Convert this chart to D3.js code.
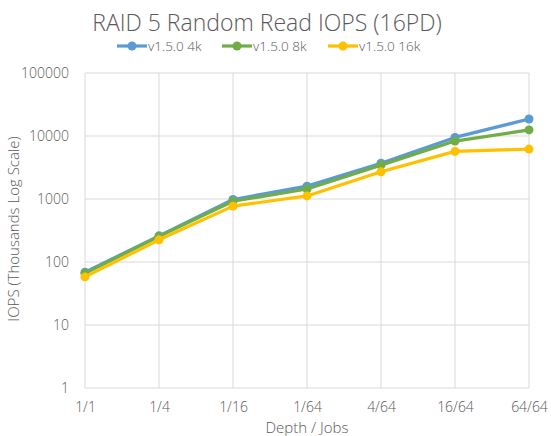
<!DOCTYPE html>
<html>
<head>
<meta charset="utf-8">
<script src="https://cdn.jsdelivr.net/npm/d3@7"></script>
<style>
  body { margin: 0; background: #fff; }
  text { font-family: "Open Sans", Lato, sans-serif; font-weight: 300; fill: #595959; }
</style>
</head>
<body>
<svg id="chart" width="551" height="436"></svg>
<script>
const categories = ['1/1', '1/4', '1/16', '1/64', '4/64', '16/64', '64/64']
const seriesNames = ['v1.5.0 4k', 'v1.5.0 8k', 'v1.5.0 16k']
const iops4k = [69, 260, 980, 1600, 3700, 9500, 18600]
const iops8k = [66, 255, 920, 1440, 3450, 8300, 12500]
const iops16k = [58, 225, 770, 1120, 2700, 5700, 6200]
const yTicks = [1, 10, 100, 1000, 10000, 100000]
const colors = ['#5B9BD5', '#70AD47', '#FFC000']

window.addEventListener('load', makeChart)
function makeChart() {
  const svg = d3.select('#chart')
  const series = [iops4k, iops8k, iops16k]

  const scX = d3.scalePoint().domain(categories).range([85, 529])
  const scY = d3.scaleLog().domain([1, 100000]).range([388, 73])

  // grid
  svg.append('g')
    .selectAll('line')
    .data(yTicks)
    .enter()
    .append('line')
    .attr('x1', 85).attr('x2', 529)
    .attr('y1', (d) => scY(d)).attr('y2', (d) => scY(d))
    .attr('stroke', '#d9d9d9')
  svg.append('g')
    .selectAll('line')
    .data(categories)
    .enter()
    .append('line')
    .attr('x1', (d) => scX(d)).attr('x2', (d) => scX(d))
    .attr('y1', 73).attr('y2', 388)
    .attr('stroke', '#d9d9d9')

  // axis labels
  const yAxis = d3.axisLeft(scY).tickValues(yTicks).tickFormat(d3.format('d')).tickSize(0).tickPadding(16)
  svg.append('g').attr('transform', 'translate(85,0)').call(yAxis)
    .call((g) => g.select('.domain').remove())
    .selectAll('text').attr('font-size', 14)

  const xAxis = d3.axisBottom(scX).tickSize(0).tickPadding(14)
  svg.append('g').attr('transform', 'translate(0,388)').call(xAxis)
    .call((g) => g.select('.domain').remove())
    .selectAll('text').attr('font-size', 14)

  // lines
  const line = d3.line().x((d, i) => scX(categories[i])).y((d) => scY(d))
  series.forEach((s, k) => {
    svg.append('path')
      .attr('d', line(s))
      .attr('fill', 'none')
      .attr('stroke', colors[k])
      .attr('stroke-width', 3.2)
      .attr('stroke-linejoin', 'round')
    svg.append('g')
      .selectAll('circle')
      .data(s)
      .enter()
      .append('circle')
      .attr('cx', (d, i) => scX(categories[i]))
      .attr('cy', (d) => scY(d))
      .attr('r', 4.5)
      .attr('fill', colors[k])
  })

  // titles
  svg.append('text').attr('x', 267).attr('y', 31).attr('text-anchor', 'middle')
    .attr('font-size', 23).text('RAID 5 Random Read IOPS (16PD)')
  svg.append('text').attr('x', 307).attr('y', 433).attr('text-anchor', 'middle')
    .attr('font-size', 15).text('Depth / Jobs')
  svg.append('text').attr('transform', 'translate(19,229) rotate(-90)').attr('text-anchor', 'middle')
    .attr('font-size', 15).text('IOPS (Thousands Log Scale)')

  // legend
  const legX = [117, 222, 328]
  seriesNames.forEach((name, k) => {
    const g = svg.append('g').attr('transform', `translate(${legX[k]},46)`)
    g.append('line').attr('x1', 0).attr('x2', 30).attr('y1', 0).attr('y2', 0)
      .attr('stroke', colors[k]).attr('stroke-width', 3.2)
    g.append('circle').attr('cx', 15).attr('cy', 0).attr('r', 4.5).attr('fill', colors[k])
    g.append('text').attr('x', 31).attr('y', 5).attr('font-size', 13.5).text(name)
  })
}
</script>
</body>
</html>
